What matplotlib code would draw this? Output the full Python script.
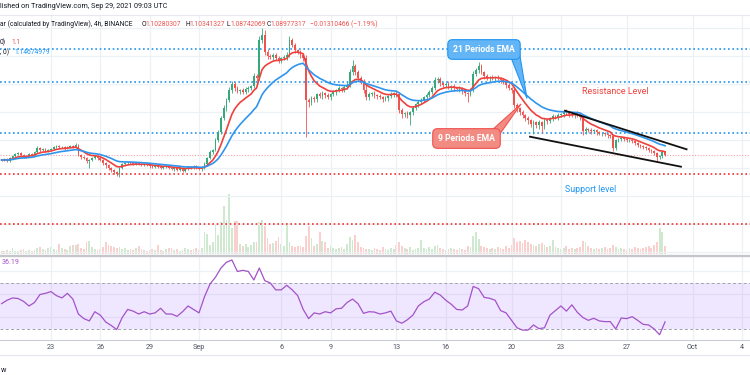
import numpy as np
import matplotlib
matplotlib.use("Agg")
import matplotlib.pyplot as plt
from matplotlib.patches import Polygon
from matplotlib.lines import Line2D

plt.rcParams['font.family'] = ['Roboto', 'DejaVu Sans']

# ---------------- data (4h candles, Aug 20 00:00 -> Sep 29 08:00) ----------------
first_open = 1.072
closes = [
    1.070, 1.074, 1.066, 1.078, 1.086, 1.094, 1.098, 1.090, 1.082, 1.086,
    1.094, 1.090, 1.102, 1.118, 1.110, 1.114, 1.106, 1.110, 1.114, 1.122,
    1.126, 1.122, 1.122, 1.118, 1.122, 1.126, 1.122, 1.130, 1.090, 1.082,
    1.078, 1.066, 1.070, 1.078, 1.086, 1.078, 1.070, 1.058, 1.050, 1.038,
    1.030, 1.022, 1.014, 1.038, 1.054, 1.058, 1.062, 1.058, 1.054, 1.058,
    1.054, 1.050, 1.054, 1.050, 1.046, 1.042, 1.046, 1.042, 1.038, 1.042,
    1.046, 1.038, 1.034, 1.038, 1.030, 1.038, 1.026, 1.034, 1.042, 1.038,
    1.046, 1.038, 1.034, 1.038, 1.054, 1.078, 1.102, 1.110, 1.150, 1.182,
    1.238, 1.278, 1.310, 1.350, 1.374, 1.358, 1.346, 1.350, 1.342, 1.354,
    1.358, 1.366, 1.406, 1.398, 1.550, 1.570, 1.502, 1.486, 1.482, 1.490,
    1.478, 1.470, 1.478, 1.482, 1.490, 1.550, 1.530, 1.510, 1.502, 1.490,
    1.478, 1.310, 1.302, 1.318, 1.314, 1.334, 1.326, 1.338, 1.330, 1.322,
    1.334, 1.342, 1.350, 1.358, 1.354, 1.362, 1.370, 1.422, 1.446, 1.422,
    1.398, 1.382, 1.350, 1.322, 1.334, 1.338, 1.330, 1.326, 1.322, 1.314,
    1.318, 1.326, 1.334, 1.338, 1.334, 1.270, 1.254, 1.258, 1.250, 1.262,
    1.278, 1.294, 1.302, 1.310, 1.322, 1.330, 1.342, 1.358, 1.390, 1.394,
    1.378, 1.370, 1.374, 1.362, 1.366, 1.358, 1.354, 1.358, 1.346, 1.338,
    1.334, 1.350, 1.414, 1.430, 1.446, 1.422, 1.406, 1.398, 1.402, 1.398,
    1.402, 1.398, 1.390, 1.382, 1.370, 1.358, 1.350, 1.290, 1.278, 1.262,
    1.250, 1.238, 1.230, 1.214, 1.222, 1.210, 1.222, 1.206, 1.230, 1.226,
    1.238, 1.246, 1.242, 1.250, 1.254, 1.262, 1.258, 1.254, 1.250, 1.258,
    1.250, 1.242, 1.186, 1.194, 1.190, 1.186, 1.190, 1.182, 1.178, 1.178,
    1.174, 1.170, 1.166, 1.118, 1.150, 1.154, 1.158, 1.154, 1.150, 1.150,
    1.146, 1.138, 1.130, 1.126, 1.122, 1.118, 1.110, 1.106, 1.098, 1.082,
    1.086, 1.1028, 1.0898,
]
wick_up = [
    .004, .003, .005, .004, .006, .004, .005, .003, .004, .005,
    .004, .005, .006, .008, .004, .005, .003, .004, .006, .005,
    .006, .004, .005, .003, .004, .006, .004, .008, .004, .003,
    .005, .004, .003, .006, .004, .003, .004, .005, .003, .004,
    .003, .004, .003, .006, .005, .004, .003, .004, .005, .003,
    .004, .003, .005, .004, .003, .004, .003, .005, .004, .003,
    .004, .003, .004, .005, .003, .004, .003, .004, .005, .003,
    .004, .005, .003, .004, .008, .006, .008, .006, .010, .008,
    .010, .012, .010, .014, .012, .008, .010, .006, .008, .010,
    .008, .006, .012, .010, .016, .028, .020, .012, .010, .008,
    .010, .008, .006, .010, .012, .016, .010, .008, .006, .010,
    .008, .012, .010, .008, .010, .006, .008, .010, .006, .008,
    .006, .008, .006, .008, .006, .008, .010, .012, .024, .010,
    .008, .010, .012, .020, .008, .006, .008, .006, .008, .006,
    .008, .006, .008, .006, .008, .010, .008, .006, .008, .006,
    .008, .006, .010, .008, .006, .008, .010, .008, .012, .010,
    .008, .006, .008, .010, .006, .008, .006, .008, .006, .008,
    .006, .010, .012, .010, .016, .008, .006, .008, .006, .008,
    .006, .008, .006, .008, .006, .008, .006, .010, .008, .006,
    .008, .006, .008, .006, .008, .006, .008, .006, .008, .006,
    .006, .008, .006, .008, .006, .008, .012, .006, .008, .006,
    .008, .006, .010, .008, .006, .008, .006, .004, .006, .004,
    .006, .004, .006, .008, .006, .004, .006, .004, .006, .004,
    .006, .004, .006, .004, .006, .004, .006, .004, .006, .004,
    .006, .004, .0006,
]
wick_dn = [
    .004, .005, .003, .004, .005, .003, .004, .006, .004, .003,
    .005, .004, .003, .004, .006, .004, .005, .003, .004, .005,
    .003, .005, .004, .006, .003, .004, .005, .003, .004, .006,
    .004, .008, .028, .005, .004, .006, .004, .006, .010, .008,
    .006, .008, .008, .010, .004, .005, .003, .004, .005, .003,
    .004, .005, .003, .004, .006, .004, .003, .004, .005, .003,
    .004, .005, .003, .006, .004, .003, .005, .004, .003, .004,
    .005, .003, .004, .006, .004, .003, .004, .006, .004, .006,
    .008, .006, .010, .008, .012, .010, .008, .010, .006, .008,
    .010, .008, .006, .010, .008, .010, .012, .010, .008, .012,
    .008, .010, .012, .008, .010, .008, .006, .010, .008, .012,
    .010, .148, .020, .012, .010, .012, .008, .010, .012, .008,
    .010, .008, .010, .008, .010, .012, .008, .006, .010, .012,
    .010, .008, .012, .010, .012, .008, .010, .012, .008, .010,
    .008, .010, .008, .010, .012, .010, .014, .012, .010, .040,
    .010, .008, .010, .008, .006, .010, .008, .006, .008, .010,
    .012, .008, .010, .008, .010, .012, .008, .010, .012, .010,
    .032, .008, .006, .008, .010, .008, .010, .008, .010, .008,
    .010, .008, .010, .008, .010, .008, .010, .012, .014, .010,
    .012, .010, .014, .012, .040, .012, .016, .028, .010, .012,
    .008, .010, .008, .010, .008, .010, .008, .010, .008, .010,
    .008, .010, .016, .012, .008, .010, .008, .010, .008, .010,
    .008, .010, .008, .012, .008, .006, .008, .006, .008, .006,
    .008, .006, .008, .006, .008, .006, .008, .006, .008, .020,
    .008, .006, .0024,
]
volume = [
    3, 3, 4, 3, 6, 3, 3, 4, 5, 3,
    4, 3, 4, 6, 7, 5, 4, 6, 7, 5,
    4, 10, 6, 5, 4, 8, 9, 9, 10, 6,
    5, 12, 13, 7, 5, 4, 5, 7, 12, 9,
    8, 7, 6, 7, 5, 6, 4, 5, 4, 6,
    8, 5, 4, 3, 4, 5, 4, 9, 4, 3,
    5, 6, 6, 4, 5, 3, 4, 6, 5, 4,
    5, 6, 4, 6, 22, 20, 9, 12, 29, 19,
    32, 48, 34, 60, 26, 33, 33, 10, 8, 10,
    7, 9, 12, 12, 32, 34, 28, 16, 10, 11,
    13, 17, 10, 8, 31, 12, 8, 7, 8, 8,
    7, 18, 28, 16, 8, 10, 22, 13, 12, 6,
    8, 6, 5, 6, 7, 5, 10, 17, 14, 19,
    12, 7, 6, 5, 5, 4, 6, 5, 4, 7,
    5, 4, 6, 5, 9, 12, 8, 6, 5, 7,
    4, 5, 6, 14, 6, 5, 7, 5, 8, 9,
    6, 5, 4, 5, 6, 5, 4, 6, 5, 4,
    8, 7, 18, 22, 15, 8, 7, 6, 5, 6,
    5, 7, 6, 5, 8, 6, 9, 16, 12, 13,
    11, 14, 12, 10, 9, 8, 10, 11, 9, 7,
    8, 14, 7, 6, 5, 6, 8, 5, 6, 5,
    6, 7, 13, 12, 8, 6, 5, 6, 5, 6,
    7, 5, 6, 9, 7, 5, 6, 5, 4, 6,
    5, 7, 6, 5, 6, 7, 8, 6, 9, 12,
    26, 22, 8,
]
# RSI(14), read on every second candle
rsi_every2 = [
    52, 55, 57, 56.5, 54, 50, 53, 60, 61, 62.5,
    59, 57, 61, 56, 43, 39, 37, 45, 42, 36,
    33, 29.5, 40, 47, 45.5, 43, 45, 43, 44, 48,
    43, 43, 41, 45, 50, 47, 44, 58, 69, 75,
    83, 88, 90, 80, 81, 80, 72.6, 83, 72, 70,
    64, 64, 68, 64, 59, 47, 39, 44, 43, 45,
    44, 47.5, 48, 53, 56, 52, 43.6, 45, 44.7, 43,
    44, 45.5, 37, 35, 38, 42, 50, 53.7, 56, 62,
    59.5, 55, 51.5, 47, 46.5, 50, 67, 65, 57.5, 56.7,
    55, 46, 44, 37.5, 31, 29, 29, 33.5, 30.3, 31,
    42, 46, 50, 45.5, 51, 44.5, 40, 37.5, 39.3, 37,
    36.4, 36.4, 30, 39.5, 39, 40.7, 37.5, 34, 33.5, 30,
    25, 36.19,
]

date_ticks = [-9, -6, -3, 0, 5, 8, 12, 15, 19, 22, 26, 30, 33]   # days from Sep 1
date_labels = ["23", "26", "29", "Sep", "6", "9", "13", "16", "20", "23", "27", "Oct", "4"]

blue_levels = [1.514, 1.382, 1.180]
red_levels = [1.014, 0.814]

upper_trend_t = [22.25, 29.64]
upper_trend_p = [1.2672, 1.1128]
lower_trend_t = [20.12, 29.30]
lower_trend_p = [1.1632, 1.0432]

# ---------------- helpers ----------------
W, H = 750, 375
def fy(ypx):
    return 1 - ypx / H

n = min(len(closes), len(wick_up), len(wick_dn), len(volume))
c = np.array(closes[:n])
o = np.r_[first_open, c[:-1]]
hi = np.maximum(o, c) + np.array(wick_up[:n])
lo = np.minimum(o, c) - np.array(wick_dn[:n])
vol = np.array(volume[:n], dtype=float)
t = -12 + np.arange(n) / 6.0
up = c >= o

def ema(vals, span):
    a = 2.0 / (span + 1)
    out = [vals[0]]
    for v in vals[1:]:
        out.append(out[-1] + a * (v - out[-1]))
    return np.array(out)

ema9 = ema(c, 9)
ema21 = ema(c, 21)

GREEN = '#36a97a'
RED = '#ef5350'
GRID = '#edf0f5'

fig = plt.figure(figsize=(W / 100, H / 100), dpi=100)
fig.patch.set_facecolor('white')

XL = ((0 - 199) / 16.45, (750 - 199) / 16.45)

# ---------------- main price pane ----------------
axv = fig.add_axes([0, fy(254), 1, (254 - 15) / H])
ax = fig.add_axes([0, fy(254), 1, (254 - 15) / H], sharex=axv)
ax.patch.set_visible(False)
for a_ in (ax, axv):
    for s in a_.spines.values():
        s.set_visible(False)
    a_.tick_params(length=0, labelbottom=False, labelleft=False)

axv.set_xlim(*XL)
axv.set_ylim(0, 239)
axv.set_yticks([])
axv.set_xticks(date_ticks)
axv.grid(True, axis='x', color=GRID, lw=0.9)
axv.bar(t, vol, width=0.11, color=np.where(up, '#4caf50', RED),
        alpha=0.27, lw=0)

ax.set_ylim(0.694, 1.65)
ax.set_yticks(np.arange(0.702, 1.61, 0.112))
ax.grid(True, axis='y', color=GRID, lw=0.9)
ax.set_axisbelow(True)

for lv in blue_levels:
    ax.axhline(lv, color='#2196f3', lw=1.2, ls=(0, (1, 1.6)), zorder=2)
for lv in red_levels:
    ax.axhline(lv, color='#f23030', lw=1.2, ls=(0, (1, 1.6)), zorder=2)
ax.axhline(c[-1], color='#f5a3aa', lw=0.8, ls=(0, (1, 1.5)), zorder=2)

cols = np.where(up, GREEN, RED)
ax.vlines(t, lo, hi, colors=cols, lw=0.6, zorder=3)
body = np.maximum(np.abs(c - o), 0.0016)
ax.bar(t, body, bottom=np.minimum(o, c), width=0.105, color=cols, lw=0, zorder=3.1)

ax.plot(t, ema9, color='#f0403c', lw=1.2, zorder=4)
ax.plot(t, ema21, color='#2f95ee', lw=1.2, zorder=4)

ax.plot(upper_trend_t, upper_trend_p, color='#111111', lw=1.3, zorder=4.5)
ax.plot(lower_trend_t, lower_trend_p, color='#111111', lw=1.3, zorder=4.5)

def px2d(x, y):
    return ((x - 199) / 16.45, 1.71 - 0.004 * y)

# callout: 21 Periods EMA
ax.add_patch(Polygon([px2d(511, 57.5), px2d(519.5, 53), px2d(527, 98.5)],
                     closed=True, fc='#64b5f6', ec='#2196f3', lw=0.8, zorder=5.5))
bx, by = px2d(484, 49.5)
ax.text(bx, by, "21 Periods EMA", ha='center', va='center', color='white',
        fontsize=6.2, fontweight='bold', zorder=6,
        bbox=dict(boxstyle='round,pad=0.62,rounding_size=0.55', fc='#64b5f6',
                  ec='#2196f3', lw=0.8))
# callout: 9 Periods EMA
ax.add_patch(Polygon([px2d(491, 131), px2d(499.5, 134.5), px2d(521, 104)],
                     closed=True, fc='#f28b82', ec='#ef5350', lw=0.8, zorder=5.5))
rx, ry = px2d(466.5, 138.5)
ax.text(rx, ry, "9 Periods EMA", ha='center', va='center', color='white',
        fontsize=6.2, fontweight='bold', zorder=6,
        bbox=dict(boxstyle='round,pad=0.62,rounding_size=0.55', fc='#f28b82',
                  ec='#ef5350', lw=0.8))

sx, sy = px2d(615, 91)
ax.text(sx, sy, "Resistance Level", ha='center', va='center', color='#f0403c', fontsize=6.4)
sx, sy = px2d(591, 190)
ax.text(sx, sy, "Support level", ha='center', va='center', color='#2196f3', fontsize=6.4)

# ---------------- RSI pane ----------------
axr = fig.add_axes([0, fy(340), 1, (340 - 257) / H], sharex=axv)
axr.set_ylim(20.4, 92.6)
axr.axhspan(30, 70, color='#b388ff', alpha=0.2, lw=0)
axr.axhline(70, color='#a0a3ab', lw=0.7, ls=(0, (3, 2.5)))
axr.axhline(30, color='#a0a3ab', lw=0.7, ls=(0, (3, 2.5)))
axr.set_yticks([40, 60, 80])
axr.set_xticks(date_ticks)
axr.set_xticklabels(date_labels)
axr.grid(True, color=GRID, lw=0.9)
axr.set_axisbelow(True)
axr.plot(t[::2][:len(rsi_every2)], rsi_every2[:len(t[::2])], color='#a352c9', lw=0.9)
for k, s in axr.spines.items():
    s.set_visible(k == 'bottom')
axr.spines['bottom'].set_color('#c9ccd3')
axr.spines['bottom'].set_linewidth(0.8)
axr.tick_params(axis='x', length=0, pad=3.2, labelsize=5.2, labelcolor='#4c525e')
axr.tick_params(axis='y', length=0, labelleft=False)

# ---------------- frame lines ----------------
fig.add_artist(Line2D([0, 1], [fy(15), fy(15)], transform=fig.transFigure, color='#e6e9ef', lw=0.8))
fig.add_artist(Line2D([0, 1], [fy(255.8), fy(255.8)], transform=fig.transFigure, color='#c4c6cc', lw=1.7))
fig.add_artist(Line2D([0, 1], [fy(355), fy(355)], transform=fig.transFigure, color='#e3e6ec', lw=0.8))

# ---------------- header / legend texts ----------------
DARK = '#131722'
def ftext(x, y, s, color=DARK, size=4.9, **kw):
    fig.text(x / W, fy(y), s, color=color, fontsize=size, ha='left', va='center', **kw)

ftext(0, 6, "lished on TradingView.com, Sep 29, 2021 09:03 UTC", size=5.2)
ftext(0, 24, "ar (calculated by TradingView), 4h, BINANCE", size=4.9)
for lx, letter, vx, val in [(141.5, "O", 145.7, "1.10280307"), (185, "H", 189, "1.10341327"),
                            (226.5, "L", 230, "1.08742069"), (266.5, "C", 270.7, "1.08977317")]:
    ftext(lx, 24, letter, size=4.9)
    ftext(vx, 24, val, color=RED, size=4.9)
ftext(310, 24, "\u22120.01310466 (\u22121.19%)", color=RED, size=4.9)
ftext(0, 42.5, "0)", size=4.9)
ftext(11, 42.5, "1.1", color=RED, size=4.9)
ftext(0, 52, ", 0)", size=4.9)
ftext(14, 52, "1.14674979", color='#2196f3', size=4.9)
ftext(2, 263, "36.19", color='#a352c9', size=5.0)
ftext(0.5, 370, "w", size=5.2)

fig.savefig("out.png", dpi=100, facecolor='white')
